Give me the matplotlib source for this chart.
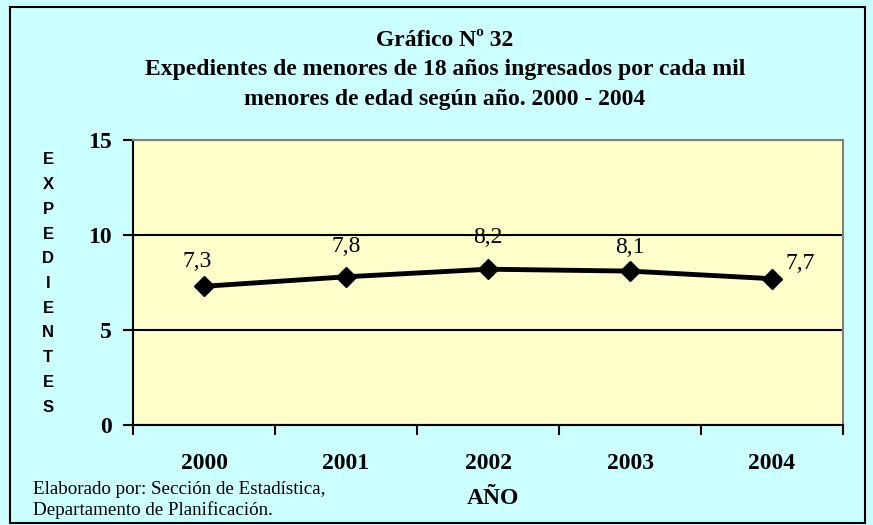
import matplotlib
matplotlib.use("Agg")
import matplotlib.pyplot as plt
from matplotlib.patches import Rectangle

# Data
years = ["2000", "2001", "2002", "2003", "2004"]
values = [7.3, 7.8, 8.2, 8.1, 7.7]
value_labels = ["7,3", "7,8", "8,2", "8,1", "7,7"]
label_offsets = [(-5, 18), (0, 22), (0, 23), (0, 17), (20, 11)]

W, H = 873, 525
fig = plt.figure(figsize=(W / 100, H / 100), dpi=100)
fig.patch.set_facecolor("#CCFFFF")

serif = ["Liberation Serif", "DejaVu Serif"]
sans = ["Liberation Sans", "DejaVu Sans"]

# outer frame
fig.patches.append(Rectangle((10 / W, 2 / H), 855 / W, 516 / H, transform=fig.transFigure,
                             fill=False, edgecolor="black", linewidth=1.5))

ax = fig.add_axes([133 / W, (H - 425) / H, 710 / W, 285 / H])
ax.set_facecolor("#FFFFCC")

x = list(range(len(years)))
ax.plot(x, values, color="black", linewidth=3.5, marker="D", markersize=10.5,
        markerfacecolor="black", zorder=3, clip_on=False)

for xi, v, lab, off in zip(x, values, value_labels, label_offsets):
    ax.annotate(lab, (xi, v), xytext=off, textcoords="offset points",
                ha="center", va="center", fontsize=17, family=serif)

ax.set_xlim(-0.5, 4.5)
ax.set_ylim(0, 15)
ax.set_yticks([0, 5, 10, 15])
ax.yaxis.grid(True, color="black", linewidth=1.5)
ax.set_axisbelow(True)

ax.set_xticks([i - 0.5 for i in range(len(years) + 1)])
ax.set_xticklabels([])
ax.set_xticks(x, minor=True)
ax.set_xticklabels(years, minor=True)
ax.tick_params(axis="x", which="major", direction="out", length=7, width=1.5)
ax.tick_params(axis="x", which="minor", length=0, pad=20)
ax.tick_params(axis="y", direction="out", length=7, width=1.5, pad=8)
for t in ax.get_xticklabels(minor=True) + ax.get_yticklabels():
    t.set_fontfamily(serif)
    t.set_fontweight("bold")
    t.set_fontsize(17)

ax.spines["left"].set_linewidth(1.5)
ax.spines["bottom"].set_linewidth(1.5)
ax.spines["top"].set_color("#808080")
ax.spines["right"].set_color("#808080")
ax.spines["top"].set_linewidth(1.5)
ax.spines["right"].set_linewidth(1.5)

# titles
title_lines = ["Gráfico Nº 32",
               "Expedientes de menores de 18 años ingresados por cada mil",
               "menores de edad según año. 2000 - 2004"]
for i, line in enumerate(title_lines):
    fig.text(445 / W, 1 - (40 + i * 30) / H, line, ha="center", va="center",
             fontsize=17, fontweight="bold", family=serif)

# vertical stacked y label
ylabel = "EXPEDIENTES"
for i, ch in enumerate(ylabel):
    fig.text(48 / W, 1 - (160 + i * 24.7) / H, ch, ha="center", va="center",
             fontsize=12, fontweight="bold", family=sans)

fig.text(493 / W, 1 - 498 / H, "AÑO", ha="center", va="center",
         fontsize=17, fontweight="bold", family=serif)

fig.text(33 / W, 1 - 489 / H, "Elaborado por: Sección de Estadística,", ha="left",
         va="center", fontsize=13.7, family=serif)
fig.text(33 / W, 1 - 510 / H, "Departamento de Planificación.", ha="left",
         va="center", fontsize=13.7, family=serif)

fig.savefig("out.png", dpi=100, facecolor=fig.get_facecolor())
